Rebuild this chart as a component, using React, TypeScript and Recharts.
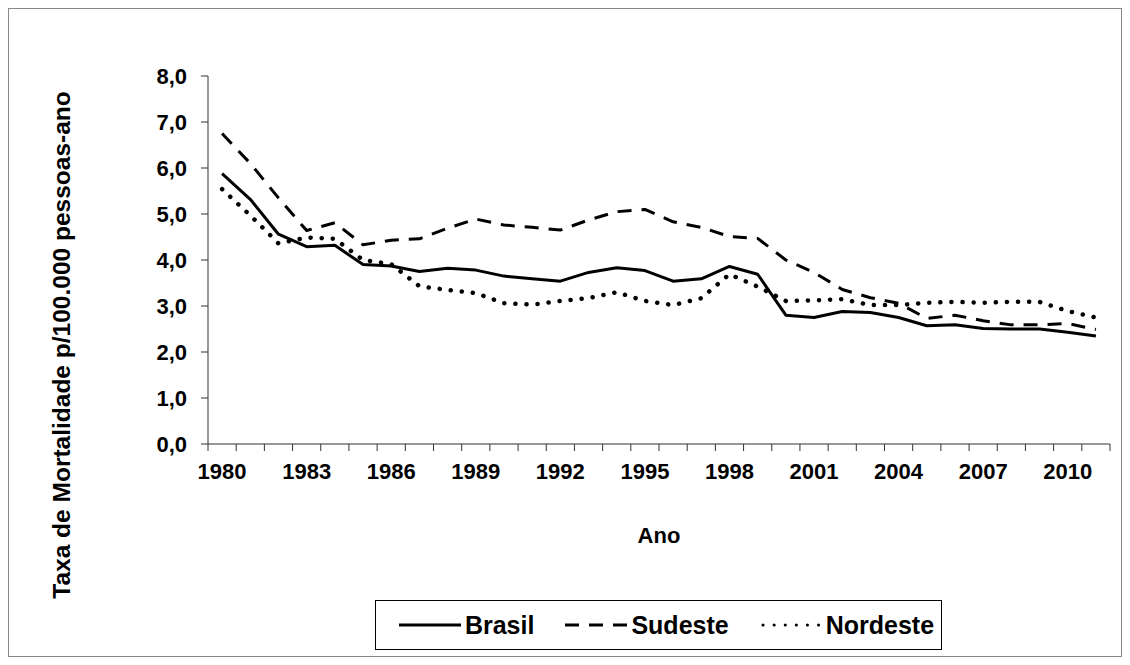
import { LineChart, Line, XAxis, YAxis, Legend } from 'recharts';

// ─── Data ──────────────────────────────────────────────────────────────────────
const years = [
  1980, 1981, 1982, 1983, 1984, 1985, 1986, 1987, 1988, 1989,
  1990, 1991, 1992, 1993, 1994, 1995, 1996, 1997, 1998, 1999,
  2000, 2001, 2002, 2003, 2004, 2005, 2006, 2007, 2008, 2009,
  2010, 2011,
];

const brasil = [
  5.88, 5.32, 4.56, 4.29, 4.32, 3.90, 3.87, 3.75, 3.82, 3.78,
  3.65, 3.59, 3.54, 3.73, 3.83, 3.77, 3.54, 3.59, 3.86, 3.69,
  2.80, 2.75, 2.88, 2.86, 2.75, 2.57, 2.59, 2.51, 2.50, 2.50,
  2.43, 2.35,
];

const sudeste = [
  6.75, 6.10, 5.35, 4.64, 4.81, 4.33, 4.43, 4.46, 4.69, 4.89,
  4.76, 4.71, 4.65, 4.87, 5.05, 5.10, 4.83, 4.71, 4.51, 4.47,
  4.00, 3.73, 3.36, 3.18, 3.06, 2.73, 2.80, 2.68, 2.59, 2.59,
  2.62, 2.49,
];

const nordeste = [
  5.54, 4.97, 4.36, 4.49, 4.46, 4.00, 3.91, 3.43, 3.35, 3.28,
  3.06, 3.03, 3.11, 3.17, 3.30, 3.11, 3.02, 3.17, 3.69, 3.42,
  3.11, 3.12, 3.15, 3.02, 3.02, 3.07, 3.09, 3.07, 3.09, 3.09,
  2.89, 2.75,
];

const yearLabels = [1980, 1983, 1986, 1989, 1992, 1995, 1998, 2001, 2004, 2007, 2010];
const yTicks = [0, 1, 2, 3, 4, 5, 6, 7, 8];

// ─── Style tokens ──────────────────────────────────────────────────────────────
const FONT = '"Liberation Sans", Arial, Helvetica, sans-serif';
const AXIS = '#333';
const INK = '#000';

const SERIES = [
  { key: 'brasil',   name: 'Brasil',   dash: undefined, width: 3,   cap: 'butt' as const },
  { key: 'sudeste',  name: 'Sudeste',  dash: '14 10',   width: 3,   cap: 'butt' as const },
  { key: 'nordeste', name: 'Nordeste', dash: '0.1 11',  width: 4.5, cap: 'round' as const },
];

const data = years.map((year, i) => ({
  year,
  brasil: brasil[i],
  sudeste: sudeste[i],
  nordeste: nordeste[i],
}));

// tick marks sit between categories, labels sit on category centres
const boundaries = [...years.map(y => y - 0.5), years[years.length - 1] + 0.5];
const xTicks = [...boundaries, ...yearLabels].sort((a, b) => a - b);

const fmtY = (v: number) => v.toFixed(1).replace('.', ',');

// ─── Pieces ────────────────────────────────────────────────────────────────────
function XTick({ x, y, payload }: any) {
  const v = payload.value as number;
  if (!Number.isInteger(v)) {
    return <line x1={x} x2={x} y1={y} y2={y + 7} stroke={AXIS} strokeWidth={1} />;
  }
  return (
    <text x={x} y={y + 19} dy="0.71em" textAnchor="middle"
      fontSize={22} fontWeight="bold" fill={INK} fontFamily={FONT}>
      {v}
    </text>
  );
}

function YLabel(props: any) {
  const vb = props.viewBox;
  // baseline on the right-hand side of the rotated text
  const bx = vb.x + 2;
  const cy = vb.y + vb.height / 2 + 85;
  return (
    <text transform={`translate(${bx}, ${cy}) rotate(-90)`} textAnchor="middle"
      fontSize={24.5} fontWeight="bold" fill={INK} fontFamily={FONT}>
      Taxa de Mortalidade p/100.000 pessoas-ano
    </text>
  );
}

function XLabel(props: any) {
  const vb = props.viewBox;
  return (
    <text x={vb.x + vb.width / 2} y={vb.y + 99} textAnchor="middle"
      fontSize={22} fontWeight="bold" fill={INK} fontFamily={FONT}>
      Ano
    </text>
  );
}

function LegendBox() {
  return (
    <div style={{
      boxSizing: 'border-box', width: 567, height: 50, border: '1px solid #000',
      background: '#fff', display: 'flex', alignItems: 'center', justifyContent: 'center',
      gap: 31, paddingLeft: 16, fontFamily: FONT,
    }}>
      {SERIES.map(s => {
        const round = s.cap === 'round';
        return (
          <div key={s.key} style={{ display: 'flex', alignItems: 'center' }}>
            <svg width={62} height={10}>
              <line x1={round ? 3 : 0} x2={round ? 60 : 62} y1={5} y2={5}
                stroke={INK} strokeWidth={3}
                strokeDasharray={s.dash} strokeLinecap={s.cap} />
            </svg>
            <span style={{ fontSize: 25, fontWeight: 'bold', marginLeft: 4, color: INK }}>
              {s.name}
            </span>
          </div>
        );
      })}
    </div>
  );
}

// ─── Chart ─────────────────────────────────────────────────────────────────────
export default function App() {
  return (
    <div style={{
      width: 1114, height: 649, border: '1px solid #888', boxSizing: 'border-box',
      background: '#fff', fontFamily: FONT,
    }}>
      <LineChart width={1112} height={647} data={data}
        margin={{ top: 67, right: 11, left: 59, bottom: 102 }}>
        <XAxis
          dataKey="year" type="number" domain={[1979.5, 2011.5]}
          ticks={xTicks} interval={0} height={110}
          tickSize={0} tickMargin={0} tickLine={false}
          axisLine={{ stroke: AXIS }}
          tick={<XTick />}
          label={XLabel}
        />
        <YAxis
          type="number" domain={[0, 8]} ticks={yTicks} width={140}
          tickSize={7} tickMargin={14} tickFormatter={fmtY}
          axisLine={{ stroke: AXIS }} tickLine={{ stroke: AXIS }}
          tick={{ fontSize: 22, fontWeight: 'bold', fill: INK, fontFamily: FONT }}
          label={YLabel}
        />
        {SERIES.map(s => (
          <Line key={s.key} dataKey={s.key} name={s.name} type="linear"
            stroke={INK} strokeWidth={s.width} strokeDasharray={s.dash}
            strokeLinecap={s.cap} strokeLinejoin="round"
            dot={false} activeDot={false} isAnimationActive={false} />
        ))}
        <Legend
          layout="horizontal" verticalAlign="middle" align="center"
          content={() => <LegendBox />}
          wrapperStyle={{ left: 366, top: 591, width: 567, height: 50 }}
        />
      </LineChart>
    </div>
  );
}
